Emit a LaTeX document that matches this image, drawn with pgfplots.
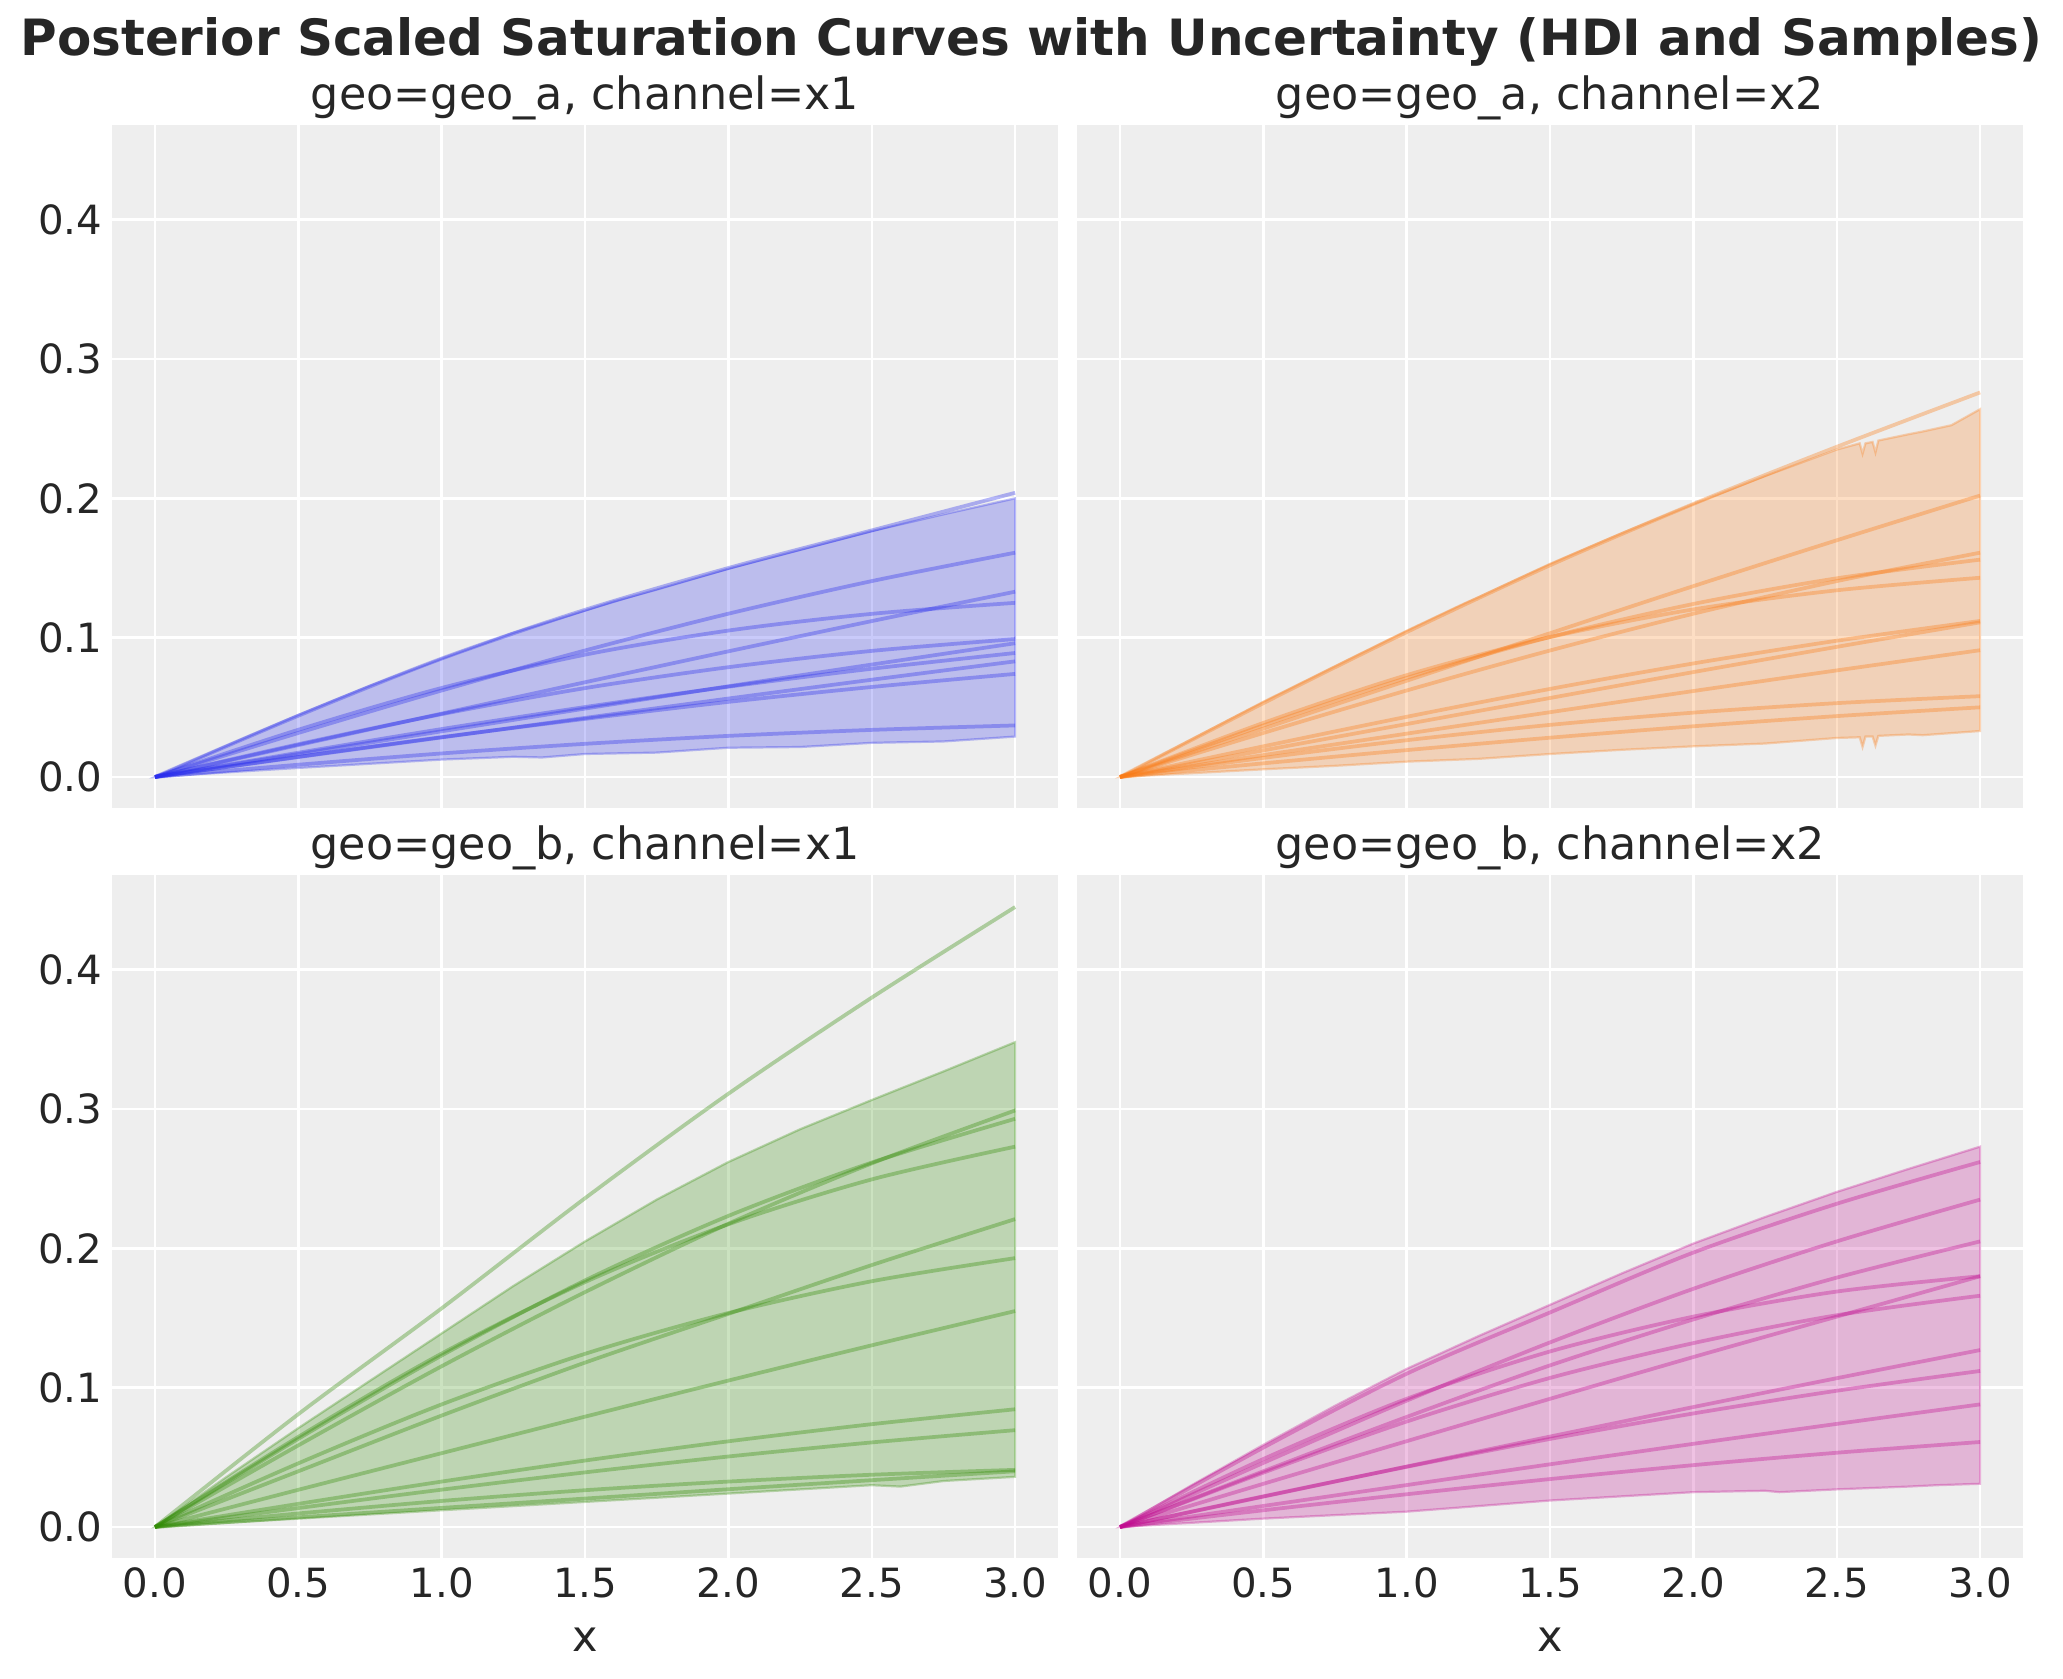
\documentclass[border=0pt]{standalone}
\usepackage{pgfplots}
\pgfplotsset{compat=1.18}
\usepackage{fontspec}
\setmainfont{DejaVu Sans}
\definecolor{cb}{HTML}{2A2EEC}
\definecolor{co}{HTML}{FA7C17}
\definecolor{cg}{HTML}{328C06}
\definecolor{cm}{HTML}{C10C90}
\definecolor{bg}{HTML}{EEEEEE}
\definecolor{txt}{HTML}{262626}
\pgfplotsset{
  panel/.style={
    scale only axis, width=340.6pt, height=245.9pt,
    xmin=-0.15, xmax=3.15, ymin=-0.0223, ymax=0.468,
    axis background/.style={fill=bg},
    axis line style={draw=none},
    major tick length=0pt,
    grid=major, grid style={white, line width=0.9pt},
    xtick={0,0.5,1,1.5,2,2.5,3}, ytick={0,0.1,0.2,0.3,0.4},
    /pgf/number format/assume math mode=true,
    xticklabel style={/pgf/number format/fixed,/pgf/number format/fixed zerofill,/pgf/number format/precision=1},
    yticklabel style={/pgf/number format/fixed,/pgf/number format/fixed zerofill,/pgf/number format/precision=1},
    tick label style={font=\fontsize{14.5}{17}\selectfont, text=txt},
    title style={at={(axis description cs:0.5,1)}, anchor=center, yshift=3.6pt, font=\fontsize{16}{19}\selectfont, text=txt},
    xlabel style={at={(axis description cs:0.5,0)}, anchor=center, yshift=-29.5pt, font=\fontsize{15.5}{18}\selectfont, text=txt},
    no markers,
    clip=true,
  },
  smp/.style={draw=#1, line width=1.35pt, draw opacity=0.35, smooth},
  hdi/.style={fill=#1, fill opacity=0.25, draw=#1, draw opacity=0.3, line width=0.8pt},
}
\begin{document}
\begin{tikzpicture}
\useasboundingbox (0,0) rectangle (742.68pt,-604.44pt);
\node[font=\fontsize{18}{21}\selectfont\bfseries, text=txt] at (371.3pt,-15.2pt) {Posterior Scaled Saturation Curves with Uncertainty (HDI and Samples)};

% ---------------- top left ----------------
\begin{axis}[panel, at={(40.32pt,-45pt)}, anchor=north west,
  title={geo=geo\_a, channel=x1}, xticklabels={}]
\addplot[hdi=cb] coordinates {(0,0)(0.25,0.0225)(0.5,0.0445)(0.75,0.0655)(1.0,0.085)(1.25,0.1035)(1.5,0.1195)(1.6,0.126)(1.75,0.1345)(2.0,0.1495)(2.25,0.163)(2.5,0.1765)(2.75,0.1885)(3.0,0.200)
 (3.0,0.029)(2.75,0.0255)(2.5,0.0245)(2.25,0.0215)(2.0,0.021)(1.75,0.0175)(1.5,0.0165)(1.35,0.014)(1.25,0.0145)(1.0,0.0125)(0.75,0.0095)(0.5,0.0065)(0.25,0.0033)(0,0)} -- cycle;
\addplot[smp=cb] coordinates {(0,0)(0.5,0.044)(1,0.085)(1.5,0.120)(2,0.150)(2.5,0.177)(3,0.204)};
\addplot[smp=cb] coordinates {(0,0)(0.5,0.0316)(1,0.0621)(1.5,0.0908)(2,0.1172)(2.5,0.1406)(3,0.161)};
\addplot[smp=cb] coordinates {(0,0)(0.5,0.0229)(1,0.0455)(1.5,0.068)(2,0.0902)(2.5,0.1119)(3,0.133)};
\addplot[smp=cb] coordinates {(0,0)(0.5,0.0339)(1,0.0639)(1.5,0.0878)(2,0.1051)(2.5,0.1171)(3,0.125)};
\addplot[smp=cb] coordinates {(0,0)(0.5,0.0235)(1,0.0451)(1.5,0.0638)(2,0.0788)(2.5,0.0905)(3,0.099)};
\addplot[smp=cb] coordinates {(0,0)(0.5,0.0165)(1,0.0328)(1.5,0.0491)(2,0.0651)(2.5,0.0807)(3,0.096)};
\addplot[smp=cb] coordinates {(0,0)(0.5,0.0174)(1,0.0344)(1.5,0.0502)(2,0.0648)(2.5,0.0777)(3,0.089)};
\addplot[smp=cb] coordinates {(0,0)(0.5,0.0143)(1,0.0284)(1.5,0.0424)(2,0.0563)(2.5,0.0698)(3,0.083)};
\addplot[smp=cb] coordinates {(0,0)(0.5,0.0145)(1,0.0286)(1.5,0.0417)(2,0.0539)(2.5,0.0646)(3,0.074)};
\addplot[smp=cb] coordinates {(0,0)(0.5,0.0088)(1,0.0169)(1.5,0.0238)(2,0.0295)(2.5,0.0338)(3,0.037)};
\end{axis}

% ---------------- top right ----------------
\begin{axis}[panel, at={(387.72pt,-45pt)}, anchor=north west,
  title={geo=geo\_a, channel=x2}, xticklabels={}, yticklabels={}]
\addplot[hdi=co] coordinates {(0,0)(0.25,0.027)(0.5,0.054)(0.75,0.0795)(1.0,0.105)(1.2,0.1245)(1.25,0.129)(1.5,0.153)(1.75,0.175)(2.0,0.196)(2.25,0.216)(2.5,0.235)(2.58,0.2395)(2.59,0.232)(2.60,0.2395)(2.625,0.2405)(2.635,0.233)(2.645,0.2415)(2.75,0.246)(2.8,0.248)(2.9,0.2525)(3.0,0.264)
 (3.0,0.033)(2.9,0.0315)(2.8,0.030)(2.75,0.0305)(2.645,0.0295)(2.635,0.0225)(2.625,0.029)(2.60,0.029)(2.59,0.0215)(2.58,0.0285)(2.5,0.028)(2.25,0.024)(2.0,0.022)(1.75,0.0195)(1.5,0.0165)(1.25,0.013)(1.0,0.011)(0.75,0.008)(0.5,0.0055)(0.25,0.0027)(0,0)} -- cycle;
\addplot[smp=co] coordinates {(0,0)(0.5,0.053)(1,0.104)(1.5,0.152)(2,0.196)(2.5,0.237)(3,0.276)};
\addplot[smp=co] coordinates {(0,0)(0.5,0.0347)(1,0.0691)(1.5,0.1032)(2,0.137)(2.5,0.1699)(3,0.202)};
\addplot[smp=co] coordinates {(0,0)(0.5,0.0316)(1,0.0621)(1.5,0.0908)(2,0.1172)(2.5,0.1406)(3,0.161)};
\addplot[smp=co] coordinates {(0,0)(0.5,0.037)(1,0.0711)(1.5,0.1005)(2,0.1242)(2.5,0.1426)(3,0.156)};
\addplot[smp=co] coordinates {(0,0)(0.5,0.0388)(1,0.0731)(1.5,0.1004)(2,0.1203)(2.5,0.134)(3,0.143)};
\addplot[smp=co] coordinates {(0,0)(0.5,0.022)(1,0.0432)(1.5,0.0632)(2,0.0815)(2.5,0.0978)(3,0.112)};
\addplot[smp=co] coordinates {(0,0)(0.5,0.0191)(1,0.038)(1.5,0.0567)(2,0.0753)(2.5,0.0934)(3,0.111)};
\addplot[smp=co] coordinates {(0,0)(0.5,0.0157)(1,0.0311)(1.5,0.0465)(2,0.0617)(2.5,0.0765)(3,0.091)};
\addplot[smp=co] coordinates {(0,0)(0.5,0.0137)(1,0.0264)(1.5,0.0374)(2,0.0462)(2.5,0.053)(3,0.058)};
\addplot[smp=co] coordinates {(0,0)(0.5,0.0098)(1,0.0193)(1.5,0.0282)(2,0.0364)(2.5,0.0437)(3,0.050)};
\end{axis}

% ---------------- bottom left ----------------
\begin{axis}[panel, at={(40.32pt,-315pt)}, anchor=north west,
  title={geo=geo\_b, channel=x1}, xlabel={x}]
\addplot[hdi=cg] coordinates {(0,0)(0.25,0.036)(0.5,0.071)(0.75,0.105)(1.0,0.139)(1.25,0.173)(1.5,0.205)(1.75,0.235)(2.0,0.262)(2.25,0.2855)(2.5,0.3065)(2.75,0.327)(3.0,0.348)
 (3.0,0.036)(2.75,0.033)(2.6,0.029)(2.5,0.030)(2.25,0.027)(2.0,0.024)(1.75,0.021)(1.5,0.018)(1.25,0.015)(1.0,0.012)(0.75,0.009)(0.5,0.006)(0,0)} -- cycle;
\addplot[smp=cg] coordinates {(0,0)(0.5,0.081)(1,0.157)(1.5,0.236)(2,0.311)(2.5,0.380)(3,0.445)};
\addplot[smp=cg] coordinates {(0,0)(0.5,0.0586)(1,0.1154)(1.5,0.1686)(2,0.2177)(2.5,0.261)(3,0.299)};
\addplot[smp=cg] coordinates {(0,0)(0.5,0.0633)(1,0.1231)(1.5,0.177)(2,0.2233)(2.5,0.2616)(3,0.293)};
\addplot[smp=cg] coordinates {(0,0)(0.5,0.0647)(1,0.1245)(1.5,0.1758)(2,0.2173)(2.5,0.2495)(3,0.273)};
\addplot[smp=cg] coordinates {(0,0)(0.5,0.040)(1,0.080)(1.5,0.118)(2,0.153)(2.5,0.188)(3,0.221)};
\addplot[smp=cg] coordinates {(0,0)(0.5,0.0457)(1,0.088)(1.5,0.1243)(2,0.1536)(2.5,0.1764)(3,0.193)};
\addplot[smp=cg] coordinates {(0,0)(0.5,0.0267)(1,0.053)(1.5,0.0792)(2,0.1051)(2.5,0.1304)(3,0.155)};
\addplot[smp=cg] coordinates {(0,0)(0.5,0.0166)(1,0.0326)(1.5,0.0477)(2,0.0615)(2.5,0.0738)(3,0.0845)};
\addplot[smp=cg] coordinates {(0,0)(0.5,0.0136)(1,0.0268)(1.5,0.0392)(2,0.0506)(2.5,0.0607)(3,0.0695)};
\addplot[smp=cg] coordinates {(0,0)(0.5,0.0097)(1,0.0187)(1.5,0.0264)(2,0.0326)(2.5,0.0375)(3,0.041)};
\addplot[smp=cg] coordinates {(0,0)(0.5,0.0069)(1,0.0137)(1.5,0.0204)(2,0.0271)(2.5,0.0336)(3,0.040)};
\end{axis}

% ---------------- bottom right ----------------
\begin{axis}[panel, at={(387.72pt,-315pt)}, anchor=north west,
  title={geo=geo\_b, channel=x2}, xlabel={x}, yticklabels={}]
\addplot[hdi=cm] coordinates {(0,0)(0.25,0.030)(0.5,0.059)(0.75,0.087)(1.0,0.1135)(1.25,0.137)(1.5,0.1595)(1.75,0.182)(2.0,0.2035)(2.25,0.2225)(2.5,0.2405)(2.75,0.257)(3.0,0.273)
 (3.0,0.031)(2.85,0.030)(2.75,0.029)(2.5,0.027)(2.3,0.025)(2.25,0.026)(2.0,0.025)(1.75,0.022)(1.5,0.019)(1.25,0.015)(1.0,0.011)(0.75,0.0085)(0.5,0.006)(0,0)} -- cycle;
\addplot[smp=cm] coordinates {(0,0)(0.5,0.057)(1,0.110)(1.5,0.154)(2,0.197)(2.5,0.232)(3,0.262)};
\addplot[smp=cm] coordinates {(0,0)(0.5,0.046)(1,0.0907)(1.5,0.1325)(2,0.171)(2.5,0.205)(3,0.235)};
\addplot[smp=cm] coordinates {(0,0)(0.5,0.040)(1,0.079)(1.5,0.116)(2,0.149)(2.5,0.179)(3,0.205)};
\addplot[smp=cm] coordinates {(0,0)(0.5,0.0488)(1,0.092)(1.5,0.126)(2,0.151)(2.5,0.169)(3,0.180)};
\addplot[smp=cm] coordinates {(0,0)(0.5,0.031)(1,0.0616)(1.5,0.092)(2,0.122)(2.5,0.151)(3,0.180)};
\addplot[smp=cm] coordinates {(0,0)(0.5,0.039)(1,0.0757)(1.5,0.107)(2,0.132)(2.5,0.152)(3,0.166)};
\addplot[smp=cm] coordinates {(0,0)(0.5,0.0218)(1,0.0434)(1.5,0.0649)(2,0.0861)(2.5,0.1068)(3,0.127)};
\addplot[smp=cm] coordinates {(0,0)(0.5,0.022)(1,0.0432)(1.5,0.0632)(2,0.0815)(2.5,0.0978)(3,0.112)};
\addplot[smp=cm] coordinates {(0,0)(0.5,0.0151)(1,0.0301)(1.5,0.045)(2,0.0597)(2.5,0.074)(3,0.088)};
\addplot[smp=cm] coordinates {(0,0)(0.5,0.012)(1,0.0235)(1.5,0.0344)(2,0.0444)(2.5,0.0533)(3,0.061)};
\end{axis}
\end{tikzpicture}
\end{document}
